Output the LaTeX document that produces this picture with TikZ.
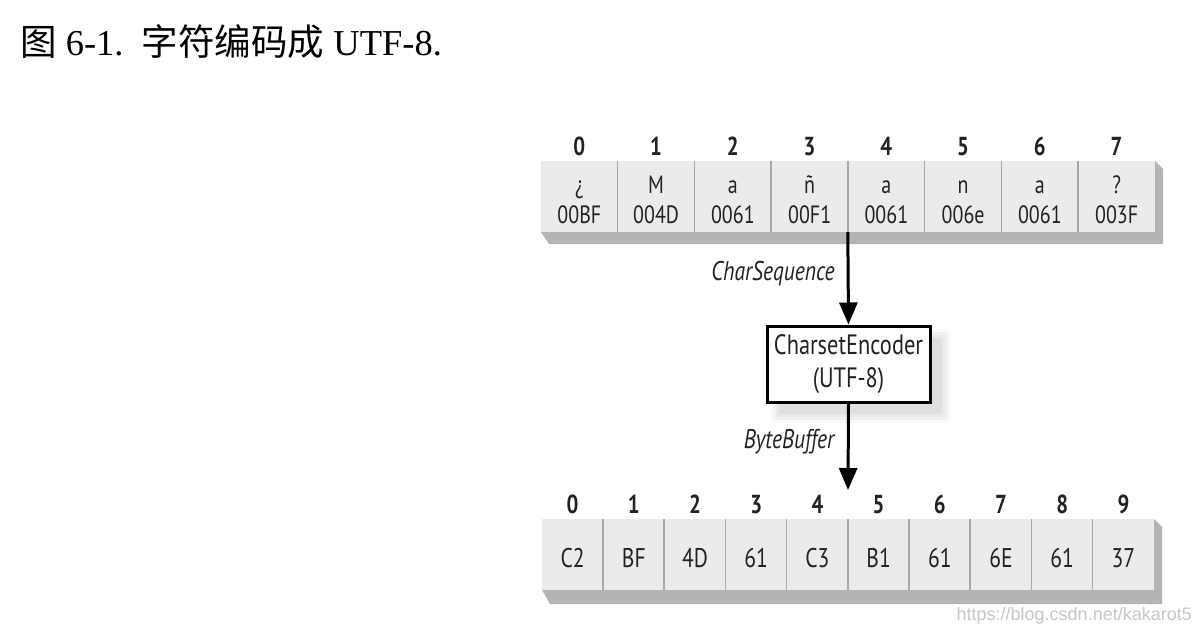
\documentclass[tikz,border=0pt]{standalone}
\usepackage{fontspec}
\setmainfont{Liberation Serif}
\newfontfamily\cjk{Noto Sans CJK SC}
\newfontfamily\cellfont{PT Sans}[FakeStretch=0.8]
\newfontfamily\wmfont{Liberation Sans}
\usetikzlibrary{arrows.meta}
\definecolor{cellgray}{HTML}{EBEBEB}
\definecolor{divgray}{HTML}{A8A8A8}
\definecolor{shadegray}{HTML}{B4B4B4}
\definecolor{wmgray}{HTML}{C8C8C8}
\definecolor{txt}{HTML}{222222}
\begin{document}
\begin{tikzpicture}[x=1pt,y=-1pt,
  topcell/.style={rectangle,minimum width=76.75pt,minimum height=71pt,inner sep=0pt,fill=cellgray,draw=none},
  botcell/.style={rectangle,minimum width=61.2pt,minimum height=71pt,inner sep=0pt,fill=cellgray,draw=none},
  divider/.style={draw=divgray,line width=1.5pt},
  numlbl/.style={anchor=base,inner sep=0pt,text=txt,font=\cellfont\bfseries\fontsize{26}{28}\selectfont},
  toptxt/.style={anchor=base,inner sep=0pt,text=txt,font=\cellfont\fontsize{25}{27}\selectfont},
  bottxt/.style={anchor=base,inner sep=0pt,text=txt,font=\cellfont\fontsize{27}{29}\selectfont},
  arrlbl/.style={inner sep=0pt,text=txt,font=\cellfont\itshape\fontsize{27}{29}\selectfont},
  flow/.style={line width=3pt,-{Triangle[length=22pt,width=18pt]}},
  encbox/.style={rectangle,draw=black,line width=3pt,fill=white,minimum width=163pt,minimum height=76pt,inner sep=0pt,align=center,text=txt,font=\cellfont\fontsize{28}{33}\selectfont}
]
\useasboundingbox (0,0) rectangle (1198,632);
\fill[white] (0,0) rectangle (1198,632);

% title
\node[anchor=base west,inner sep=0pt,font=\fontsize{36.5}{40}\selectfont] (title) at (20,55)
  {{\cjk 图} 6-1.\ \ {\cjk 字符编码成} UTF-8.};

% ---------- top array ----------
\fill[shadegray] (541,232) -- (549,244) -- (1163,244) -- (1163,169) -- (1155,161) -- cycle;
\foreach \i in {0,...,7}
  \node[topcell] (t\i) at ({541+76.75*(\i+0.5)},196.5) {};
\foreach \i in {1,...,7}
  \draw[divider] (t\i.north west) -- (t\i.south west);
\foreach \i/\c/\u in {0/¿/00BF,1/M/004D,2/a/0061,3/ñ/00F1,4/a/0061,5/n/006e,6/a/0061,7/?/003F}{
  \node[numlbl] (tn\i) at ({541+76.75*(\i+0.5)},155) {\i};
  \node[toptxt] (tc\i) at ({541+76.75*(\i+0.5)},193) {\c};
  \node[toptxt] (tu\i) at ({541+76.75*(\i+0.5)},223) {\u};
}

% ---------- encoder box ----------
\foreach \k/\o in {0/0.10,3/0.08,6/0.06,9/0.04}
  \fill[gray,opacity=\o] ({779-\k},{338-\k}) rectangle ({942+\k},{414+\k});
\node[encbox] (enc) at (848.5,364) {CharsetEncoder\\(UTF-8)};

% ---------- bottom array ----------
\fill[shadegray] (542,590) -- (550,604) -- (1162,604) -- (1162,527) -- (1154,519) -- cycle;
\foreach \i in {0,...,9}
  \node[botcell] (b\i) at ({542+61.2*(\i+0.5)},554.5) {};
\foreach \i in {1,...,9}
  \draw[divider] (b\i.north west) -- (b\i.south west);
\foreach \i/\v in {0/C2,1/BF,2/4D,3/61,4/C3,5/B1,6/61,7/6E,8/61,9/37}{
  \node[numlbl] (bn\i) at ({542+61.2*(\i+0.5)},513) {\i};
  \node[bottxt] (bv\i) at ({542+61.2*(\i+0.5)},567) {\v};
}

% ---------- connectors ----------
\coordinate (bt) at (848,490);
\draw[flow] (t4.south west) -- (enc.north);
\draw[flow] (enc.south) -- (bt);
\node[arrlbl] (l1) at (773,274) {CharSequence};
\node[arrlbl] (l2) at (789,442) {ByteBuffer};

% watermark
\node[anchor=base east,inner sep=0pt,text=wmgray,font=\wmfont\fontsize{18}{20}\selectfont] (wm) at (1192,620) {https://blog.csdn.net/kakarot5};
\end{tikzpicture}
\end{document}
